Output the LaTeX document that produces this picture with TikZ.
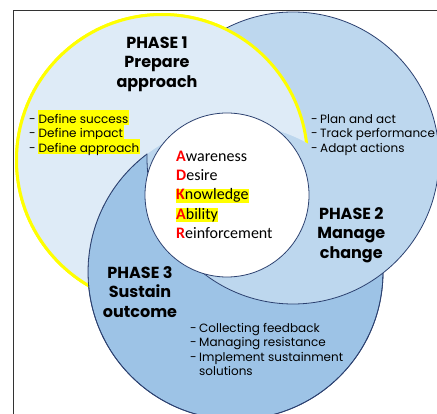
\documentclass[tikz,border=0pt]{standalone}
\usepackage{fontspec}
\setmainfont{Poppins}
\newfontfamily\adkarfont{Carlito}

\definecolor{ringA}{HTML}{DEEBF7}
\definecolor{ringB}{HTML}{BDD7EE}
\definecolor{ringC}{HTML}{9DC3E6}
\definecolor{rim}{HTML}{2C4170}
\definecolor{hl}{HTML}{FFFF00}

\tikzset{
    phasetitle/.style={font=\bfseries\fontsize{16}{19.5}\selectfont, align=center, anchor=base, inner sep=0pt},
    dashitem/.style={font=\fontsize{12}{14.5}\selectfont, anchor=base west, inner sep=0pt},
    hlitem/.style={dashitem, fill=hl, inner xsep=0.5pt, text height=13pt, text depth=1.5pt},
    adkar/.style={font=\adkarfont\fontsize{16}{19}\selectfont, anchor=base west, inner sep=0pt},
    hladkar/.style={adkar, fill=hl, text height=11.2pt, text depth=2.8pt},
}
\newcommand{\firstletter}[1]{\textcolor{red}{\textbf{#1}}}

\begin{document}
\begin{tikzpicture}[x=1pt, y=-1pt]
\useasboundingbox (0,0) rectangle (437,414);

% 外框
\draw[line width=1pt, black!80] (13,414) -- (13,11) -- (437,11);

% 三个圆: 先画1, 再画3, 再画2
\filldraw[fill=ringA, draw=hl, line width=3pt] (162,160) circle[radius=145.5pt];
\filldraw[fill=ringC, draw=rim, line width=0.8pt] (235.5,272) circle[radius=147.5pt];
\filldraw[fill=ringB, draw=rim, line width=0.8pt] (293,158) circle[radius=146pt];

% 圆1压在圆2上 (圆3之外)
\begin{scope}[even odd rule]
    \clip (0,0) rectangle (437,414) (235.5,272) circle[radius=147.5pt];
    \filldraw[fill=ringA, draw=hl, line width=3pt] (162,160) circle[radius=145.5pt];
\end{scope}

% 圆3的边 (圆2之外)
\begin{scope}[even odd rule]
    \clip (0,0) rectangle (437,414) (293,158) circle[radius=146pt];
    \draw[rim, line width=0.8pt] (235.5,272) circle[radius=147.5pt];
\end{scope}

% 中间白圆
\filldraw[fill=white, draw=rim, line width=0.8pt] (227,195) circle[radius=82pt];

% 阶段1
\node[phasetitle] (title1) at (157,87.3) {PHASE 1\\Prepare\\approach};
\node[dashitem] (dash1a) at (29,123.3) {-};
\node[hlitem] (item1a) at (38,123.3) {Define success};
\node[dashitem] (dash1b) at (29,137.8) {-};
\node[hlitem] (item1b) at (38,137.8) {Define impact};
\node[dashitem] (dash1c) at (29,152.3) {-};
\node[hlitem] (item1c) at (38,152.3) {Define approach};

% 阶段2
\node[phasetitle] (title2) at (351.3,258.3) {PHASE 2\\Manage\\change};
\node[dashitem] (dash2a) at (311,123.3) {-};
\node[dashitem] (item2a) at (320,123.3) {Plan and act};
\node[dashitem] (dash2b) at (311,137.8) {-};
\node[dashitem] (item2b) at (320,137.8) {Track performance};
\node[dashitem] (dash2c) at (311,152.3) {-};
\node[dashitem] (item2c) at (320,152.3) {Adapt actions};

% 阶段3
\node[phasetitle] (title3) at (140,317.3) {PHASE 3\\Sustain\\outcome};
\node[dashitem] (dash3a) at (190,332.5) {-};
\node[dashitem] (item3a) at (199,332.5) {Collecting feedback};
\node[dashitem] (dash3b) at (190,347) {-};
\node[dashitem] (item3b) at (199,347) {Managing resistance};
\node[dashitem] (dash3c) at (190,361.5) {-};
\node[dashitem] (item3c) at (199,361.5) {Implement sustainment};
\node[dashitem] (item3d) at (199,376) {solutions};

% ADKAR
\node[adkar] (awareness) at (176,161.7) {\firstletter{A}wareness};
\node[adkar] (desire) at (176,180.7) {\firstletter{D}esire};
\node[hladkar] (knowledge) at (176,200) {\firstletter{K}nowledge};
\node[hladkar] (ability) at (176,219.3) {\firstletter{A}bility};
\node[adkar] (reinforcement) at (176,238.3) {\firstletter{R}einforcement};

\end{tikzpicture}
\end{document}
